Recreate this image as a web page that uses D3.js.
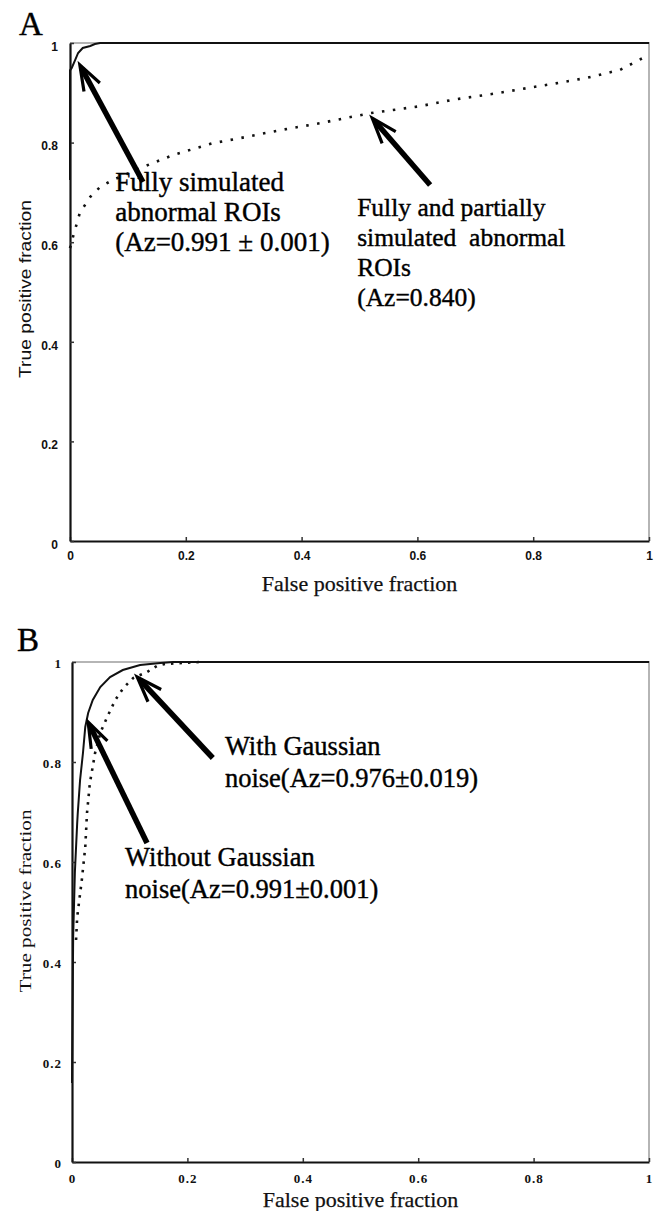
<!DOCTYPE html>
<html>
<head>
<meta charset="utf-8">
<script src="https://cdn.jsdelivr.net/npm/d3@7"></script>
<style>
  body { margin: 0; background: #fff; }
  svg { display: block; }
</style>
</head>
<body>
<div id="target_area"></div>
<script>
// tick values and labels
var tickValues = [0, 0.2, 0.4, 0.6, 0.8, 1];
var tickLabels = ["0", "0.2", "0.4", "0.6", "0.8", "1"];

// panel A: fully simulated ROIs (solid)
var fullyFpr = [0, 0, 0.003, 0.009, 0.014, 0.022, 0.035, 0.043, 0.052, 1];
var fullyTpr = [0.725, 0.945, 0.950, 0.966, 0.980, 0.990, 0.994, 0.998, 1, 1];

// panel A: fully and partially simulated ROIs (dotted)
var partialFpr = [0, 0.005, 0.017, 0.035, 0.052, 0.074, 0.126, 0.178, 0.247, 0.294, 0.363, 0.432, 0.518, 0.604, 0.661, 0.731, 0.834, 0.893, 0.950, 0.993];
var partialTpr = [0.588, 0.610, 0.659, 0.691, 0.711, 0.725, 0.751, 0.775, 0.799, 0.809, 0.825, 0.839, 0.859, 0.873, 0.886, 0.898, 0.918, 0.930, 0.946, 0.972];

// panel B: without gaussian noise (solid)
var cleanFpr = [0, 0.002, 0.005, 0.009, 0.010, 0.014, 0.019, 0.023, 0.028, 0.036, 0.049, 0.066, 0.088, 0.118, 0.153, 0.175, 1];
var cleanTpr = [0.158, 0.45, 0.58, 0.678, 0.698, 0.764, 0.818, 0.87, 0.898, 0.924, 0.95, 0.97, 0.984, 0.994, 0.998, 1, 1];

// panel B: with gaussian noise (dotted)
var noiseFpr = [0.007, 0.009, 0.017, 0.023, 0.026, 0.031, 0.040, 0.049, 0.061, 0.075, 0.089, 0.106, 0.130, 0.147, 0.161, 0.222];
var noiseTpr = [0.444, 0.49, 0.564, 0.63, 0.698, 0.758, 0.818, 0.858, 0.89, 0.924, 0.948, 0.968, 0.98, 0.992, 0.996, 1.0];

// annotations (data coordinates)
var notesA = [
  {lines: ["Fully simulated", "abnormal ROIs", "(Az=0.991 \u00b1 0.001)"], size: 27, x: 0.078, y: 0.703, tip: [0.017, 0.956], tail: [0.126, 0.721]},
  {lines: ["Fully and partially", "simulated  abnormal", "ROIs", "(Az=0.840)"], size: 25.5, x: 0.496, y: 0.653, tip: [0.522, 0.849], tail: [0.622, 0.715]}
];
var notesB = [
  {lines: ["With Gaussian", "noise(Az=0.976\u00b10.019)"], size: 26.5, x: 0.265, y: 0.814, tip: [0.113, 0.970], tail: [0.244, 0.808]},
  {lines: ["Without Gaussian", "noise(Az=0.991\u00b10.001)"], size: 26.5, x: 0.092, y: 0.592, tip: [0.028, 0.880], tail: [0.130, 0.638]}
];

var svg = d3.select("#target_area")
  .append("svg")
  .attr("width", 659)
  .attr("height", 1211);

function zip(a, b) {
  return a.map(function (d, i) { return [d, b[i]]; });
}

function drawPanel(cfg) {
  var x = d3.scaleLinear().domain([0, 1]).range([cfg.left, cfg.right]);
  var y = d3.scaleLinear().domain([0, 1]).range([cfg.bottom, cfg.top]);
  var g = svg.append("g");

  // light frame top/right
  g.append("path")
    .attr("d", "M" + x(0) + "," + y(1) + "H" + x(1) + "V" + y(0))
    .attr("fill", "none")
    .attr("stroke", "#b5b5b5")
    .attr("stroke-width", 2);

  var xAxis = g.append("g")
    .attr("transform", "translate(0," + y(0) + ")")
    .call(d3.axisBottom(x).tickValues(tickValues)
      .tickFormat(function (d, i) { return tickLabels[i]; })
      .tickSize(-4).tickSizeOuter(0).tickPadding(cfg.xPad));
  var yAxis = g.append("g")
    .attr("transform", "translate(" + x(0) + ",0)")
    .call(d3.axisLeft(y).tickValues(tickValues)
      .tickFormat(function (d, i) { return tickLabels[i]; })
      .tickSize(-4).tickSizeOuter(0).tickPadding(cfg.yPad));

  [xAxis, yAxis].forEach(function (a) {
    a.select(".domain").attr("stroke", "#111").attr("stroke-width", 2.2);
    a.selectAll(".tick line").attr("stroke", "#333").attr("stroke-width", 1.5);
    a.selectAll(".tick text")
      .attr("fill", "#111")
      .style("font-family", cfg.tickFont)
      .style("font-weight", "bold")
      .style("font-size", cfg.tickSize + "px")
      .style("letter-spacing", cfg.tickSpacing);
  });
  // y tick labels sit a little low in the original
  yAxis.selectAll(".tick text").attr("dy", cfg.yDy);

  var line = d3.line()
    .x(function (d) { return x(d[0]); })
    .y(function (d) { return y(d[1]); });

  g.append("path")
    .datum(zip(cfg.dotFpr, cfg.dotTpr))
    .attr("d", line)
    .attr("fill", "none")
    .attr("stroke", "#111")
    .attr("stroke-width", 2.6)
    .attr("stroke-dasharray", cfg.dash);

  g.append("path")
    .datum(zip(cfg.solidFpr, cfg.solidTpr))
    .attr("d", line)
    .attr("fill", "none")
    .attr("stroke", "#111")
    .attr("stroke-width", 2);

  // arrows with barbed heads
  cfg.notes.forEach(function (n) {
    var x1 = x(n.tail[0]), y1 = y(n.tail[1]), x2 = x(n.tip[0]), y2 = y(n.tip[1]);
    var ang = Math.atan2(y2 - y1, x2 - x1);
    var headLen = 27, spread = 0.34;
    g.append("line")
      .attr("x1", x1).attr("y1", y1)
      .attr("x2", x2 - Math.cos(ang) * 4).attr("y2", y2 - Math.sin(ang) * 4)
      .attr("stroke", "#000").attr("stroke-width", 5.5);
    var p1 = [x2 - headLen * Math.cos(ang - spread), y2 - headLen * Math.sin(ang - spread)];
    var p2 = [x2 - headLen * Math.cos(ang + spread), y2 - headLen * Math.sin(ang + spread)];
    g.append("path")
      .attr("d", "M" + p1 + "L" + x2 + "," + y2 + "L" + p2)
      .attr("fill", "none").attr("stroke", "#000").attr("stroke-width", 3.2)
      .attr("stroke-linejoin", "miter");

    var t = g.append("text")
      .attr("x", x(n.x)).attr("y", y(n.y))
      .style("font-family", "'Liberation Serif', 'Times New Roman', serif")
      .style("font-size", n.size + "px")
      .style("white-space", "pre")
      .attr("fill", "#000")
      .attr("stroke", "#000")
      .attr("stroke-width", 0.4);
    n.lines.forEach(function (s, i) {
      t.append("tspan").attr("x", x(n.x)).attr("dy", i === 0 ? 0 : cfg.lineGap).text(s);
    });
  });

  // axis titles
  g.append("text")
    .attr("x", (cfg.left + cfg.right) / 2).attr("y", cfg.xTitleY)
    .attr("text-anchor", "middle")
    .style("font-family", "'Liberation Serif', serif")
    .style("font-size", "22px")
    .attr("fill", "#111")
    .attr("stroke", "#111")
    .attr("stroke-width", 0.25)
    .text("False positive fraction");
  g.append("text")
    .attr("transform", "translate(" + cfg.yTitleX + "," + cfg.yTitleMid + ") rotate(-90)")
    .attr("text-anchor", "middle")
    .attr("textLength", cfg.yTitleLen)
    .attr("lengthAdjust", "spacingAndGlyphs")
    .style("font-family", cfg.yTitleFont)
    .style("font-size", "17px")
    .attr("fill", "#111")
    .text("True positive fraction");

  g.append("text")
    .attr("x", cfg.labelX).attr("y", cfg.labelY)
    .style("font-family", "'Liberation Serif', serif")
    .style("font-size", "33px")
    .attr("fill", "#000")
    .attr("stroke", "#000")
    .attr("stroke-width", 0.4)
    .text(cfg.label);
}

drawPanel({
  label: "A", labelX: 19, labelY: 35,
  left: 70, right: 649, top: 43, bottom: 541,
  solidFpr: fullyFpr, solidTpr: fullyTpr,
  dotFpr: partialFpr, dotTpr: partialTpr,
  dash: "2.5,8.5",
  notes: notesA, lineGap: 30,
  tickFont: "'Liberation Sans', Arial, sans-serif", tickSize: 12, tickSpacing: "0px",
  xPad: 10, yPad: 12, yDy: "0.6em",
  xTitleY: 591, yTitleX: 31, yTitleMid: 289, yTitleLen: 178,
  yTitleFont: "'Liberation Sans', Arial, sans-serif"
});

drawPanel({
  label: "B", labelX: 17, labelY: 651,
  left: 72, right: 649, top: 662, bottom: 1162,
  solidFpr: cleanFpr, solidTpr: cleanTpr,
  dotFpr: noiseFpr, dotTpr: noiseTpr,
  dash: "2.5,6",
  notes: notesB, lineGap: 32,
  tickFont: "'Liberation Serif', 'Times New Roman', serif", tickSize: 13, tickSpacing: "1px",
  xPad: 12, yPad: 10, yDy: "0.45em",
  xTitleY: 1207, yTitleX: 31, yTitleMid: 901, yTitleLen: 183,
  yTitleFont: "'Liberation Serif', serif"
});
</script>
</body>
</html>
